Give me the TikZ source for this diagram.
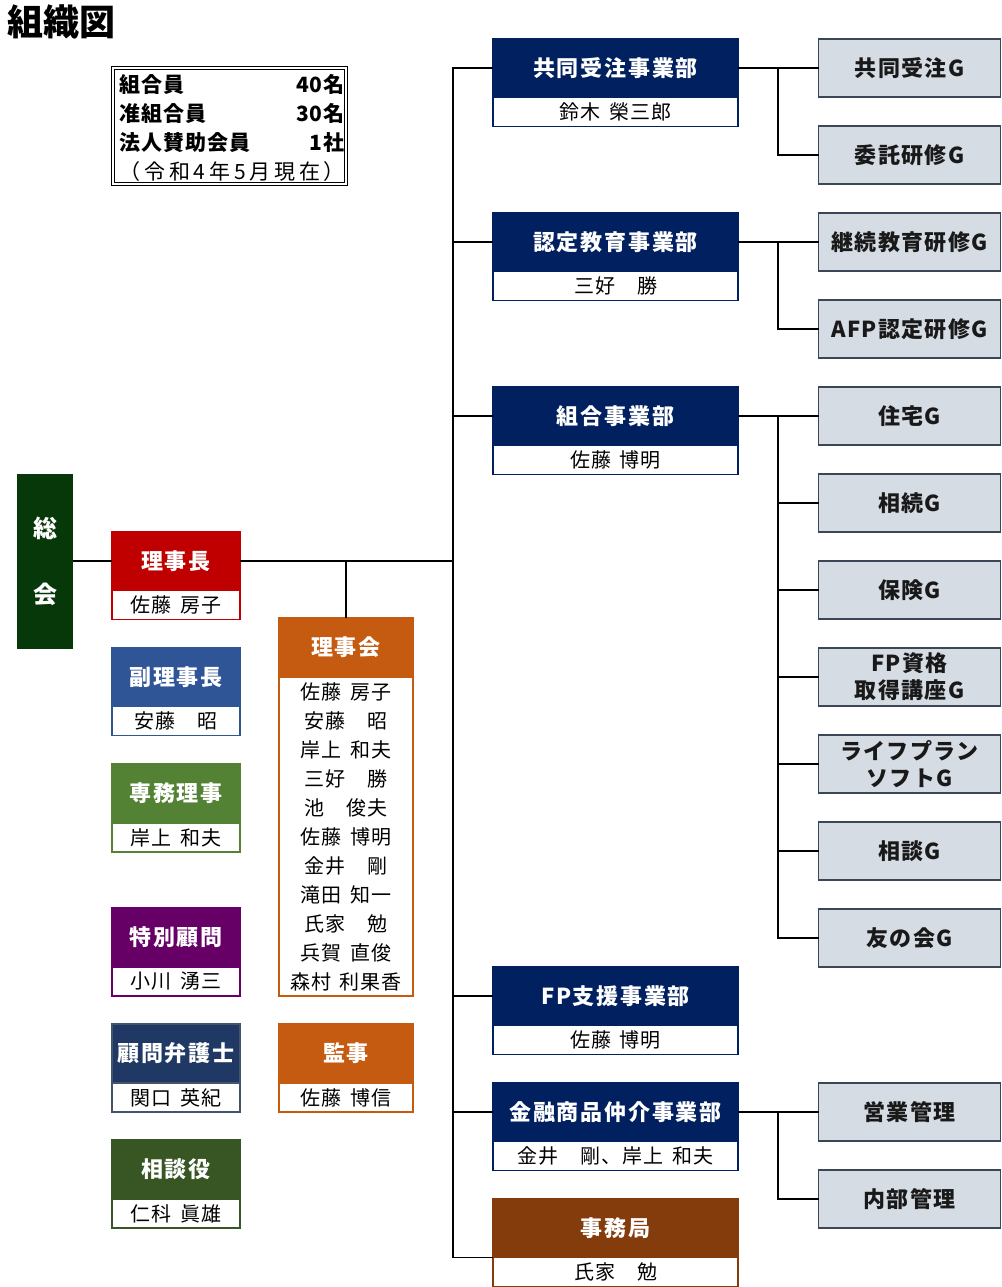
\documentclass[tikz,border=0pt]{standalone}
\usepackage{fontspec}
\setmainfont{Noto Sans CJK JP}
\usetikzlibrary{positioning}

\definecolor{sokaic}{HTML}{06380A}
\definecolor{rjcc}{HTML}{C00000}
\definecolor{fukuc}{HTML}{2F5597}
\definecolor{senmuc}{HTML}{548235}
\definecolor{tokuc}{HTML}{660066}
\definecolor{bengoc}{HTML}{1F3864}
\definecolor{bengoline}{HTML}{44546A}
\definecolor{sodanc}{HTML}{375623}
\definecolor{rjkc}{HTML}{C55A11}
\definecolor{deptc}{HTML}{002060}
\definecolor{jmkc}{HTML}{843C0C}
\definecolor{grfill}{HTML}{D6DCE4}
\definecolor{grline}{HTML}{3B4656}

\newcommand\hdfont{\bfseries\fontsize{22}{24}\selectfont\addfontfeature{LetterSpace=8}}
\newcommand\nmfont{\fontsize{20}{29}\selectfont\addfontfeature{LetterSpace=5}\spaceskip=0.45em\relax}
\newcommand\grfont{\bfseries\fontsize{22}{27}\selectfont\addfontfeature{LetterSpace=6}}

\tikzset{
	conn/.style={line width=1.6pt,black},
	lhead/.style={fill=#1,draw=#1,line width=1.5pt,text=white,font=\hdfont,minimum width=128pt,minimum height=59pt,inner sep=0pt,outer sep=0pt},
	lname/.style={fill=white,draw=#1,line width=1.5pt,text=black,font=\nmfont,minimum width=128pt,minimum height=29pt,inner sep=0pt,outer sep=0pt},
	dhead/.style={lhead=#1,minimum width=245pt},
	dname/.style={lname=#1,minimum width=245pt},
	grbox/.style={fill=grfill,draw=grline,line width=1.5pt,text=black!90,font=\grfont,align=center,minimum width=182pt,minimum height=58pt,inner sep=0pt,outer sep=0pt}
}

\begin{document}
\begin{tikzpicture}[x=1pt,y=-1pt]
	\useasboundingbox (0,0) rectangle (1001,1287);

	\node[anchor=west,inner sep=0pt,font=\bfseries\fontsize{36}{36}\selectfont] (title) at (7,22) {組織図};

	\node[draw,double,double distance=1.6pt,line width=0.8pt,minimum width=233pt,minimum height=116pt,inner sep=0pt,font=\bfseries\fontsize{21}{29}\selectfont\addfontfeature{LetterSpace=5}] (info) at (229.5,126) {%
		\raisebox{-4pt}[\height][\depth]{\begin{tabular*}{220pt}{@{}l@{\extracolsep{\fill}}r@{}}
		組合員&40名\\
		准組合員&30名\\
		法人賛助会員&1社\\
		\multicolumn{2}{@{}c@{}}{\mdseries\addfontfeature{LetterSpace=18}（令和4年5月現在）}
		\end{tabular*}}};

	\node[fill=sokaic,minimum width=56pt,minimum height=175pt,inner sep=0pt,text=white,align=center,font=\bfseries\fontsize{24}{66}\selectfont] (sokai) at (45,561.5) {総\\会};

	\node[lhead=rjcc] (rjc) at (176,561) {理事長};
	\node[lname=rjcc,below=0pt of rjc] (rjcn) {佐藤 房子};

	\node[lhead=fukuc] (fuku) at (176,677) {副理事長};
	\node[lname=fukuc,below=0pt of fuku] (fukun) {安藤　昭};

	\node[lhead=senmuc] (senmu) at (176,793.5) {専務理事};
	\node[lname=senmuc,below=0pt of senmu] (senmun) {岸上 和夫};

	\node[lhead=tokuc] (toku) at (176,937.5) {特別顧問};
	\node[lname=tokuc,below=0pt of toku] (tokun) {小川 湧三};

	\node[lhead=bengoc,draw=bengoline] (bengo) at (176,1053.5) {顧問弁護士};
	\node[lname=bengoline,below=0pt of bengo] (bengon) {関口 英紀};

	\node[lhead=sodanc] (sodan) at (176,1169.5) {相談役};
	\node[lname=sodanc,below=0pt of sodan] (sodann) {仁科 眞雄};

	\node[lhead=rjkc,minimum width=134pt] (rjk) at (346,647.5) {理事会};
	\node[lname=rjkc,minimum width=134pt,minimum height=319pt,align=center,below=0pt of rjk] (rjkn) {佐藤 房子\\安藤　昭\\岸上 和夫\\三好　勝\\池　俊夫\\佐藤 博明\\金井　剛\\滝田 知一\\氏家　勉\\兵賀 直俊\\森村 利果香};

	\node[lhead=rjkc,minimum width=134pt] (kanji) at (346,1053.5) {監事};
	\node[lname=rjkc,minimum width=134pt,below=0pt of kanji] (kanjin) {佐藤 博信};

	\node[dhead=deptc] (kyodo) at (615.5,68) {共同受注事業部};
	\node[dname=deptc,below=0pt of kyodo] (kyodon) {鈴木 榮三郎};

	\node[dhead=deptc] (nintei) at (615.5,242) {認定教育事業部};
	\node[dname=deptc,below=0pt of nintei] (ninteinn) {三好　勝};

	\node[dhead=deptc] (kumiai) at (615.5,416) {組合事業部};
	\node[dname=deptc,below=0pt of kumiai] (kumiain) {佐藤 博明};

	\node[dhead=deptc] (fpshien) at (615.5,996) {FP支援事業部};
	\node[dname=deptc,below=0pt of fpshien] (fpshienn) {佐藤 博明};

	\node[dhead=deptc] (kinyu) at (615.5,1112) {金融商品仲介事業部};
	\node[dname=deptc,below=0pt of kinyu] (kinyun) {金井　剛、岸上 和夫};

	\node[dhead=jmkc] (jmk) at (615.5,1228) {事務局};
	\node[dname=jmkc,below=0pt of jmk] (jmkn) {氏家　勉};

	\node[grbox] (grp1) at (909.5,68) {共同受注G};
	\node[grbox] (grp2) at (909.5,155) {委託研修G};
	\node[grbox] (grp3) at (909.5,242) {継続教育研修G};
	\node[grbox] (grp4) at (909.5,329) {AFP認定研修G};
	\node[grbox] (grp5) at (909.5,416) {住宅G};
	\node[grbox] (grp6) at (909.5,503) {相続G};
	\node[grbox] (grp7) at (909.5,590) {保険G};
	\node[grbox] (grp8) at (909.5,677) {FP資格\\取得講座G};
	\node[grbox] (grp9) at (909.5,764) {ライフプラン\\ソフトG};
	\node[grbox] (grp10) at (909.5,851) {相談G};
	\node[grbox] (grp11) at (909.5,938) {友の会G};
	\node[grbox] (grp12) at (909.5,1112) {営業管理};
	\node[grbox] (grp13) at (909.5,1199) {内部管理};

	\coordinate (trunk) at (453,561);
	\coordinate (bx) at (778,0);

	\draw[conn] (sokai.east |- rjc) -- (rjc.west);
	\draw[conn] (rjc.east) -- (trunk);
	\draw[conn] (rjk.north) -- (rjk.north |- rjc.east);

	\draw[conn] (kyodo.west) -| (trunk);
	\draw[conn] (nintei.west) -| (trunk);
	\draw[conn] (kumiai.west) -| (trunk);
	\draw[conn] (fpshien.west) -| (trunk);
	\draw[conn] (kinyu.west) -| (trunk);
	\draw[conn] (jmk.south west) -| (trunk);

	\draw[conn] (kyodo.east) -- (grp1.west);
	\draw[conn] (grp2.west) -| (bx |- kyodo.east);
	\draw[conn] (nintei.east) -- (grp3.west);
	\draw[conn] (grp4.west) -| (bx |- nintei.east);
	\draw[conn] (kumiai.east) -- (grp5.west);
	\draw[conn] (grp6.west) -| (bx |- kumiai.east);
	\draw[conn] (grp7.west) -| (bx |- kumiai.east);
	\draw[conn] (grp8.west) -| (bx |- kumiai.east);
	\draw[conn] (grp9.west) -| (bx |- kumiai.east);
	\draw[conn] (grp10.west) -| (bx |- kumiai.east);
	\draw[conn] (grp11.west) -| (bx |- kumiai.east);
	\draw[conn] (kinyu.east) -- (grp12.west);
	\draw[conn] (grp13.west) -| (bx |- kinyu.east);
\end{tikzpicture}
\end{document}
